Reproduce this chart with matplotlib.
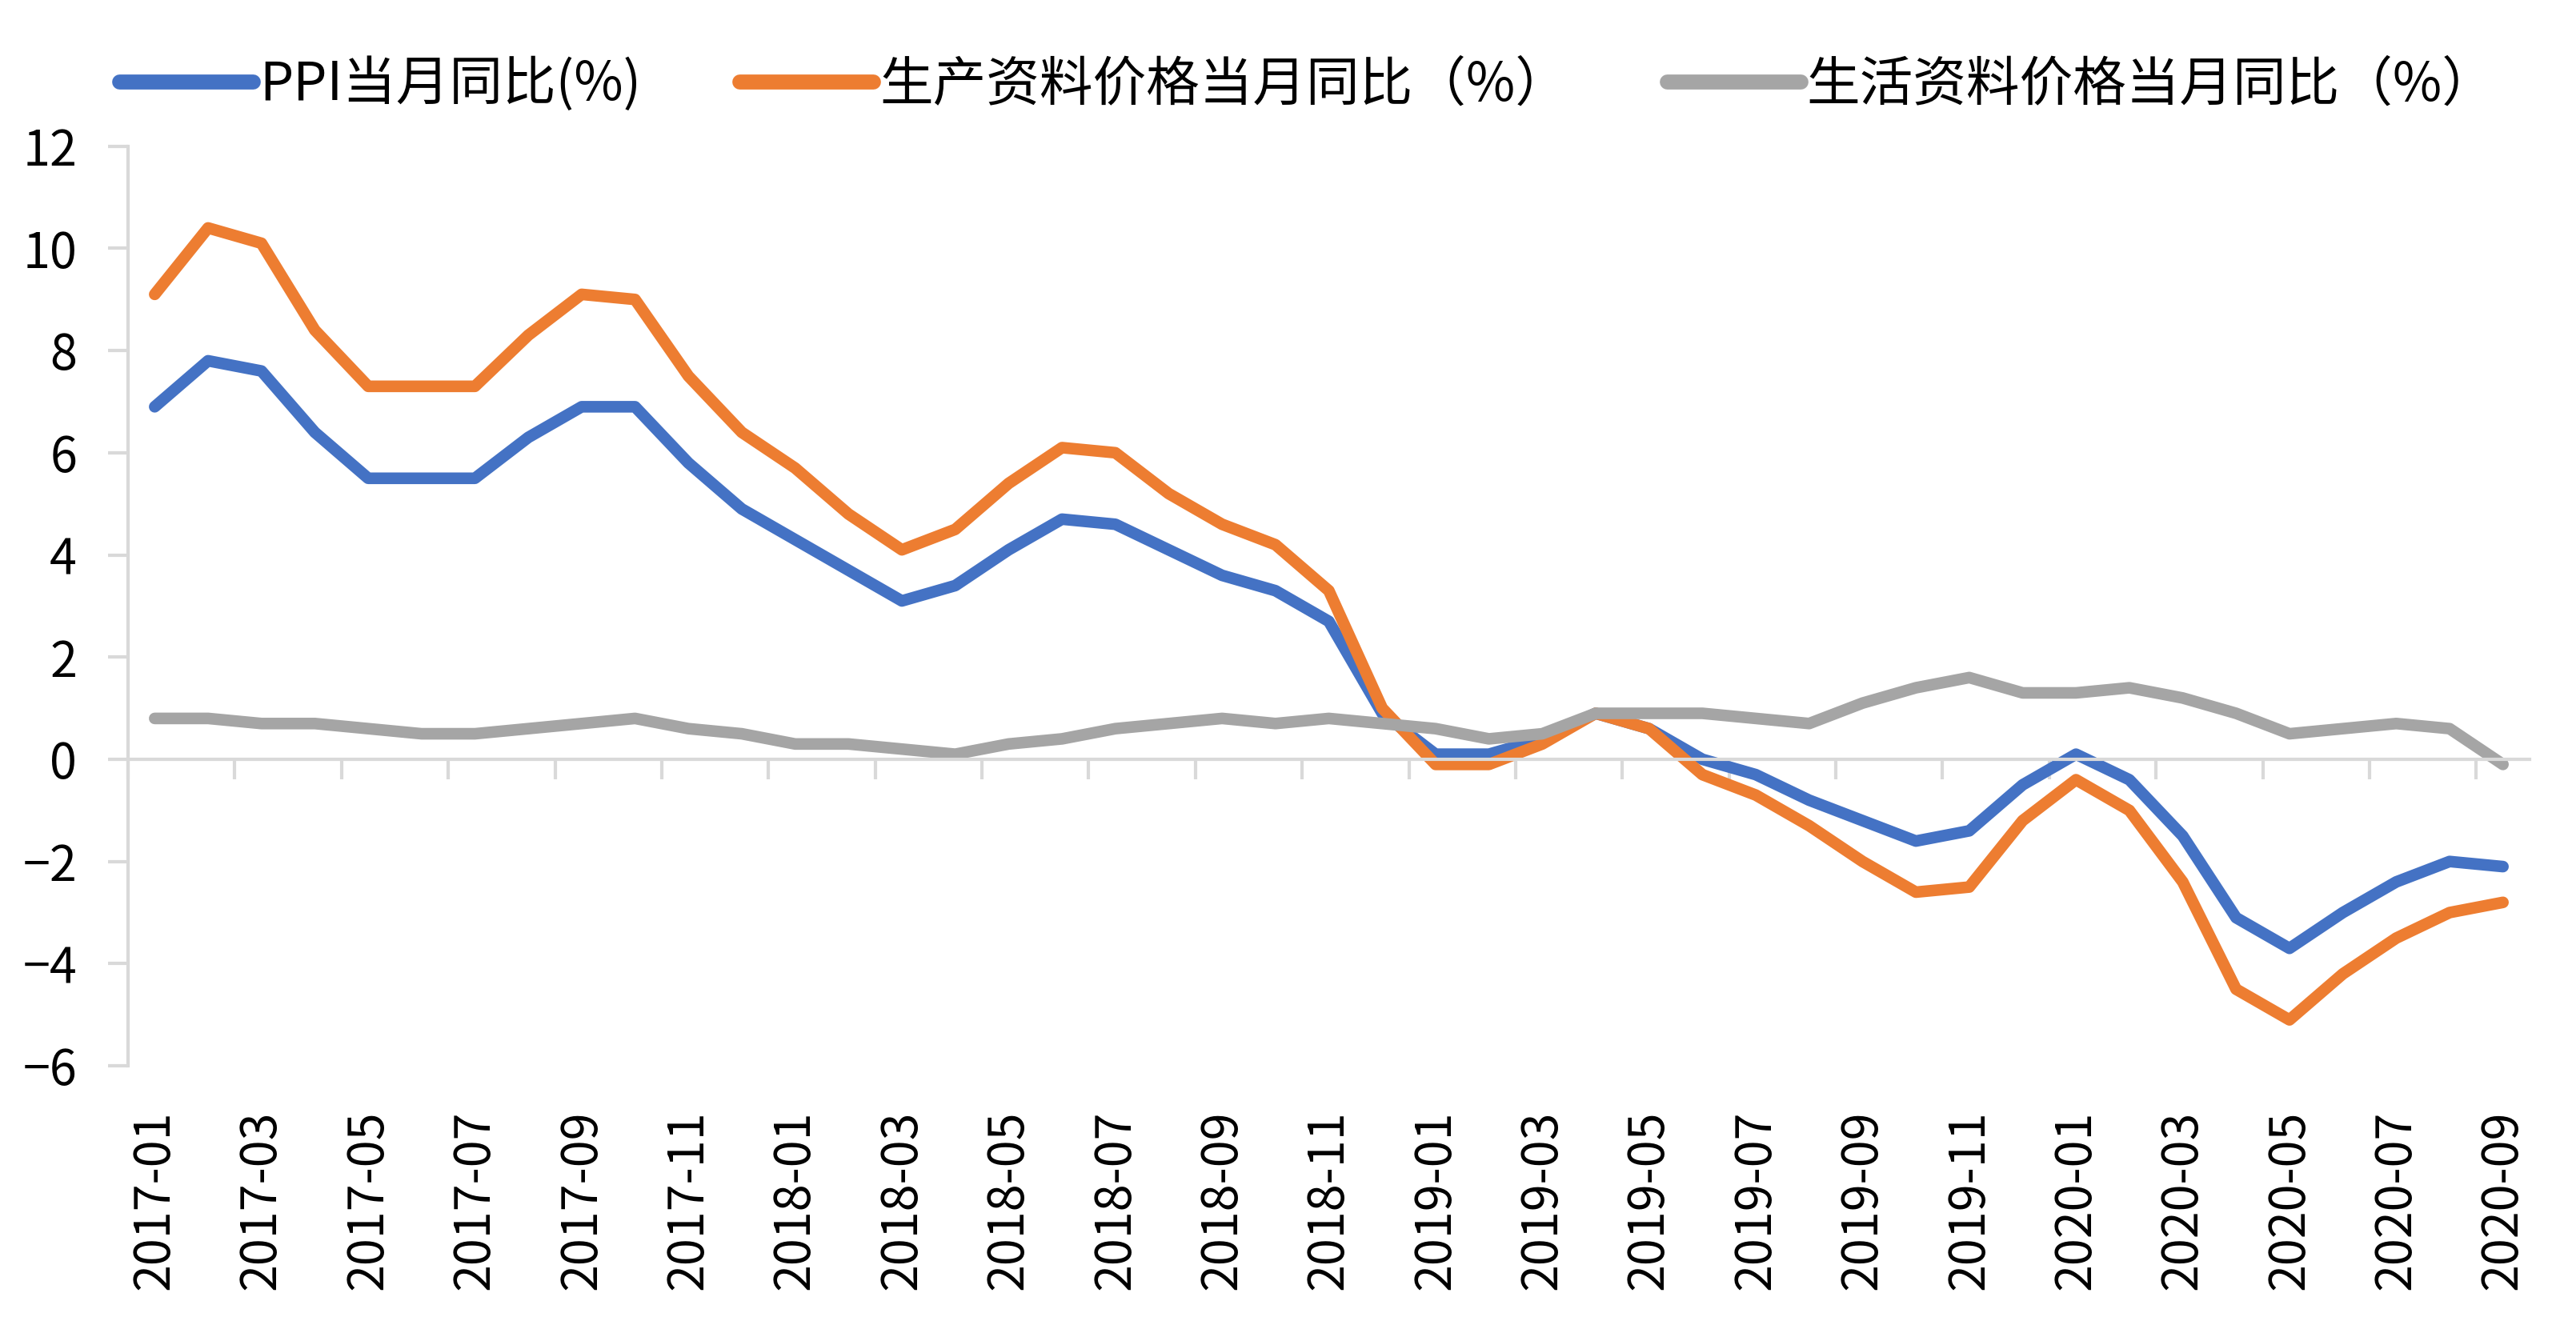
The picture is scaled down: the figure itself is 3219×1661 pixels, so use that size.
import numpy as np
import matplotlib
matplotlib.use('Agg')
import matplotlib.pyplot as plt

plt.rcParams['font.family'] = ['Noto Sans CJK SC', 'DejaVu Sans']

# monthly data, 2017-01 .. 2020-09
months = [f'{y}-{m:02d}' for y in range(2017, 2021) for m in range(1, 13)][:45]

ppi = [6.9, 7.8, 7.6, 6.4, 5.5, 5.5, 5.5, 6.3, 6.9, 6.9, 5.8, 4.9,
       4.3, 3.7, 3.1, 3.4, 4.1, 4.7, 4.6, 4.1, 3.6, 3.3, 2.7, 0.9,
       0.1, 0.1, 0.4, 0.9, 0.6, 0.0, -0.3, -0.8, -1.2, -1.6, -1.4, -0.5,
       0.1, -0.4, -1.5, -3.1, -3.7, -3.0, -2.4, -2.0, -2.1]
producer = [9.1, 10.4, 10.1, 8.4, 7.3, 7.3, 7.3, 8.3, 9.1, 9.0, 7.5, 6.4,
            5.7, 4.8, 4.1, 4.5, 5.4, 6.1, 6.0, 5.2, 4.6, 4.2, 3.3, 1.0,
            -0.1, -0.1, 0.3, 0.9, 0.6, -0.3, -0.7, -1.3, -2.0, -2.6, -2.5, -1.2,
            -0.4, -1.0, -2.4, -4.5, -5.1, -4.2, -3.5, -3.0, -2.8]
consumer = [0.8, 0.8, 0.7, 0.7, 0.6, 0.5, 0.5, 0.6, 0.7, 0.8, 0.6, 0.5,
            0.3, 0.3, 0.2, 0.1, 0.3, 0.4, 0.6, 0.7, 0.8, 0.7, 0.8, 0.7,
            0.6, 0.4, 0.5, 0.9, 0.9, 0.9, 0.8, 0.7, 1.1, 1.4, 1.6, 1.3,
            1.3, 1.4, 1.2, 0.9, 0.5, 0.6, 0.7, 0.6, -0.1]

labels = ['PPI当月同比(%)', '生产资料价格当月同比（%）', '生活资料价格当月同比（%）']
colors = ['#4472C4', '#ED7D31', '#A5A5A5']

fig = plt.figure(figsize=(32.19, 16.61), dpi=100)
ax = fig.add_axes([0.0497, 0.198, 0.9323, 0.692])

x = np.arange(len(months))
lw = 10.5
for series, lab, c in zip([ppi, producer, consumer], labels, colors):
    ax.plot(x, series, color=c, lw=lw, label=lab,
            solid_capstyle='round', solid_joinstyle='round')

grey = '#D9D9D9'
ax.set_xlim(-0.5, len(months) - 0.5)
ax.set_ylim(-6, 12)
ax.set_yticks(np.arange(-6, 13, 2))
ax.tick_params(axis='y', length=18, width=3, color=grey, labelsize=44, pad=28)

for s in ['top', 'right']:
    ax.spines[s].set_visible(False)
ax.spines['left'].set_color(grey)
ax.spines['left'].set_linewidth(3)
ax.spines['bottom'].set_position(('data', 0))
ax.spines['bottom'].set_color(grey)
ax.spines['bottom'].set_linewidth(3)

# tick marks on the zero line, between every two categories
ax.set_xticks(np.arange(-0.5, len(months), 2))
ax.set_xticklabels([])
ax.tick_params(axis='x', length=18, width=3, color=grey, direction='out')

# category labels at the bottom of the plot
sec = ax.secondary_xaxis('bottom')
sec.spines['bottom'].set_visible(False)
sec.set_xticks(x[::2])
sec.set_xticklabels(months[::2], rotation=90)
sec.tick_params(axis='x', length=0, labelsize=44, pad=40)

leg = fig.legend(loc='upper left', bbox_to_anchor=(0.0277, 0.993), ncol=3,
                 frameon=False, fontsize=48, handlelength=2.5,
                 handletextpad=0.12, columnspacing=1.85)
for h in leg.get_lines():
    h.set_linewidth(13.5)

fig.savefig('out.png', dpi=100)
